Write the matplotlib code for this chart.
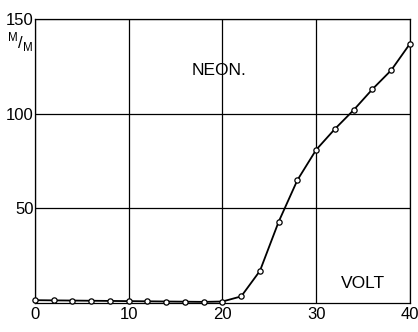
import matplotlib
matplotlib.use("Agg")
import matplotlib.pyplot as plt

# accelerating voltage (V) and signal (mm) for neon
volts = [0, 2, 4, 6, 8, 10, 12, 14, 16, 18, 20,
         22, 24, 26, 28, 30, 32, 34, 36, 38, 40]
signal = [1.5, 1.4, 1.3, 1.2, 1.1, 1.0, 0.9, 0.8, 0.7, 0.6, 0.8,
          3.5, 17, 43, 65, 81, 92, 102, 113, 123, 137]

x_ticks = [0, 10, 20, 30, 40]
y_ticks = [50, 100, 150]

plt.rcParams['font.family'] = ['Liberation Sans', 'DejaVu Sans']
plt.rcParams['mathtext.fontset'] = 'custom'
plt.rcParams['mathtext.rm'] = 'Liberation Sans'

fig = plt.figure(figsize=(4.18, 3.32), dpi=100)
ax = fig.add_axes([0.0837, 0.0873, 0.897, 0.855])

ax.plot(volts, signal, color='black', linewidth=1.3, marker='o',
        markersize=3.8, markerfacecolor='white', markeredgecolor='black',
        markeredgewidth=0.9, zorder=3, clip_on=False)

ax.set_xlim(0, 40)
ax.set_ylim(0, 150)
ax.set_xticks(x_ticks)
ax.set_yticks(y_ticks)
ax.tick_params(length=0, labelsize=12)
ax.tick_params(axis='y', pad=1)
ax.tick_params(axis='x', pad=3)
ax.grid(True, color='black', linewidth=0.9)
for s in ax.spines.values():
    s.set_linewidth(0.9)

ax.text(19.6, 123, "NEON.", ha='center', va='center', fontsize=12.5)
ax.text(35, 10.5, "VOLT", ha='center', va='center', fontsize=12.5)
fig.text(0.048, 0.872, r"$^{\mathrm{M}}/_{\mathrm{M}}$", ha='center', va='center', fontsize=12)

fig.savefig("out.png", dpi=100, facecolor='white')
